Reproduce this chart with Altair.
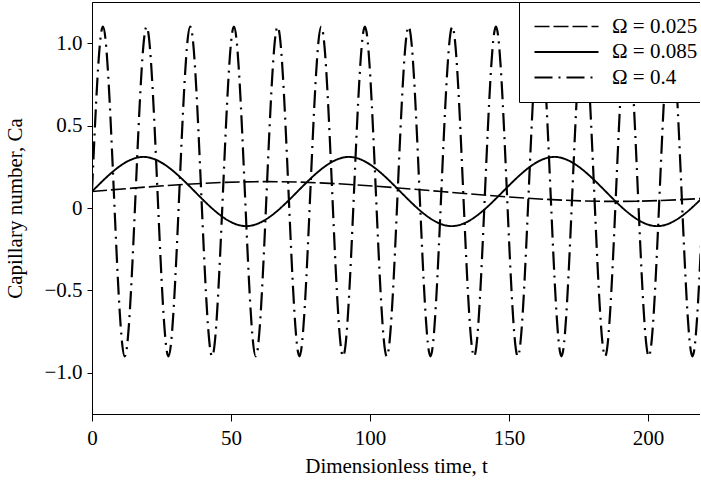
import altair as alt
import pandas as pd

# Key points (zero-crossings about Ca=0.1 and extrema)
t_low = [0.0, 62.83, 125.66, 188.50, 251.33]
ca_low = [0.10, 0.16, 0.10, 0.04, 0.10]

t_mid = [0.0, 18.48, 36.96, 55.44, 73.92, 92.40, 110.88, 129.36, 147.84,
         166.32, 184.80, 203.28, 221.76]
ca_mid = [0.10, 0.31, 0.10, -0.11, 0.10, 0.31, 0.10, -0.11, 0.10,
          0.31, 0.10, -0.11, 0.10]

t_high = [0.0, 3.93, 7.85, 11.78, 15.71, 19.63, 23.56, 27.49, 31.42, 35.34,
          39.27, 43.20, 47.12, 51.05, 54.98, 58.90, 62.83, 66.76, 70.69, 74.61,
          78.54, 82.47, 86.39, 90.32, 94.25, 98.17, 102.10, 106.03, 109.96, 113.88,
          117.81, 121.74, 125.66, 129.59, 133.52, 137.44, 141.37, 145.30, 149.23, 153.15,
          157.08, 161.01, 164.93, 168.86, 172.79, 176.71, 180.64, 184.57, 188.50, 192.42,
          196.35, 200.28, 204.20, 208.13, 212.06, 215.98, 219.91]
ca_high = [0.1, 1.1, 0.1, -0.9, 0.1, 1.1, 0.1, -0.9, 0.1, 1.1,
           0.1, -0.9, 0.1, 1.1, 0.1, -0.9, 0.1, 1.1, 0.1, -0.9,
           0.1, 1.1, 0.1, -0.9, 0.1, 1.1, 0.1, -0.9, 0.1, 1.1,
           0.1, -0.9, 0.1, 1.1, 0.1, -0.9, 0.1, 1.1, 0.1, -0.9,
           0.1, 1.1, 0.1, -0.9, 0.1, 1.1, 0.1, -0.9, 0.1, 1.1,
           0.1, -0.9, 0.1, 1.1, 0.1, -0.9, 0.1]

series_labels = ["Ω = 0.025", "Ω = 0.085", "Ω = 0.4"]
x_ticks = [0, 50, 100, 150, 200]
y_ticks = [-1.0, -0.5, 0.0, 0.5, 1.0]

rows = []
for lab, ts, cs in zip(series_labels, [t_low, t_mid, t_high], [ca_low, ca_mid, ca_high]):
    for t, c in zip(ts, cs):
        rows.append({"series": lab, "t": t, "Ca": c})
df = pd.DataFrame(rows)

FONT = "Liberation Serif"

chart = alt.Chart(df).mark_line(interpolate="natural", clip=True, color="black").encode(
    x=alt.X("t:Q",
            scale=alt.Scale(domain=[0, 218.7], nice=False, zero=False),
            axis=alt.Axis(values=x_ticks, title="Dimensionless time, t", format="d",
                          labelFlush=False, tickSize=7, labelPadding=6, titlePadding=7)),
    y=alt.Y("Ca:Q",
            scale=alt.Scale(domain=[-1.25, 1.25], nice=False, zero=False),
            axis=alt.Axis(values=y_ticks, title="Capillary number, Ca",
                          labelExpr="datum.value == 0 ? '0' : format(datum.value, '.1f')",
                          labelFlush=False, tickSize=5, labelPadding=5, titlePadding=18)),
    strokeDash=alt.StrokeDash(
        "series:N",
        scale=alt.Scale(domain=series_labels, range=[[15, 4], [1, 0], [18, 6, 2, 6]]),
        legend=alt.Legend(title=None, orient="none", legendX=427, legendY=0,
                          strokeColor="black", fillColor="white", padding=14,
                          symbolType="M-6.4,0H6.4", symbolSize=100, symbolOffset=23,
                          symbolStrokeWidth=1.5, symbolStrokeColor="black",
                          labelFont=FONT, labelFontSize=21, labelColor="black",
                          labelOffset=35, rowPadding=3.5)),
    strokeWidth=alt.StrokeWidth(
        "series:N",
        scale=alt.Scale(domain=series_labels, range=[1.6, 2.2, 1.4]),
        legend=None),
    order="t:Q",
).properties(
    width=608, height=412,
    autosize=alt.AutoSizeParams(type="none"),
    padding={"left": 92, "top": 2, "right": 0, "bottom": 68},
).configure_view(
    stroke="black", strokeWidth=1
).configure_axis(
    grid=False, domainColor="black", tickColor="black", labelColor="black",
    titleColor="black", labelFont=FONT, titleFont=FONT, labelFontSize=21,
    titleFontSize=21, titleFontWeight="normal", domainWidth=1, tickWidth=1
)

chart.save("out.html", embed_options={"renderer": "svg", "actions": False})
